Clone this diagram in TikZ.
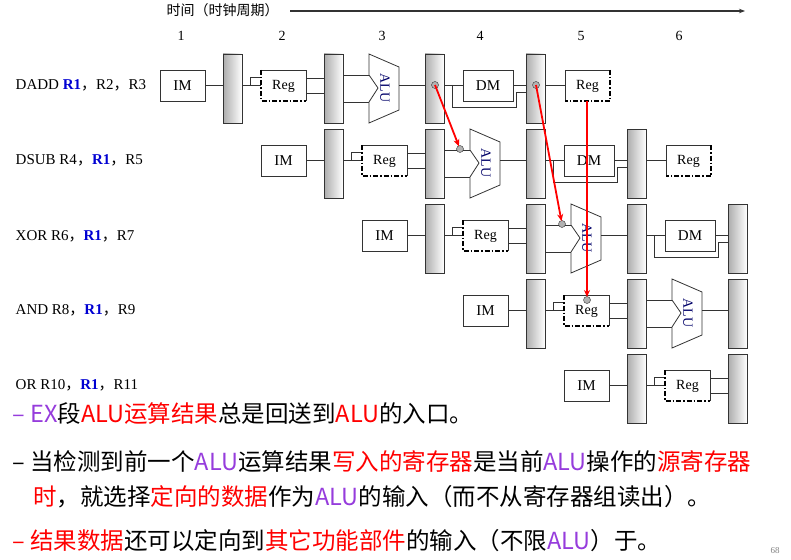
\documentclass[tikz,border=0pt]{standalone}
\usepackage{fontspec}
\setmainfont{Liberation Serif}
\newfontfamily\cjk{Noto Sans CJK SC}
\usetikzlibrary{arrows.meta}
\definecolor{exblue}{RGB}{0,0,210}
\definecolor{expurple}{RGB}{150,60,220}
\tikzset{
  box/.style={draw,minimum width=45pt,minimum height=31pt,inner sep=0pt,font=\fontsize{15}{15}\selectfont},
  latch/.style={draw,left color=gray!65,right color=white},
  tap/.style={draw,fill=gray!60,thin},
  dd/.style={draw=black,line width=1.4pt,dash pattern=on 5pt off 2pt on 1.5pt off 2pt},
  fwd/.style={red,line width=1.8pt,-{Stealth[length=7pt,width=6pt]},shorten >=3pt},
  lab/.style={anchor=west,font=\fontsize{15}{15}\selectfont},
  say/.style={anchor=west,inner sep=0pt,font=\cjk\fontsize{23.5}{23.5}\selectfont}
}
\newcommand{\regrd}[1]{% register read, dash-dot left and bottom
  \fill[white] (#1,70) rectangle ++(45,31);
  \draw (#1,70) -- ++(45,0) -- ++(0,31);
  \draw[dd] (#1,70) -- ++(0,31) -- ++(45,0);
  \node at (#1+22.5,86) {Reg};}
\newcommand{\regwr}[1]{% register write, dash-dot right and bottom
  \fill[white] (#1,70) rectangle ++(45,31);
  \draw (#1,101) -- ++(0,-31) -- ++(45,0);
  \draw[dd] (#1+45,70) -- ++(0,31) -- ++(-45,0);
  \node at (#1+22.5,86) {Reg};}
\begin{document}
\begin{tikzpicture}[x=1pt,y=-1pt,line width=0.8pt,draw=black!80]
\useasboundingbox (0,0) rectangle (791,559);
% header
\node[anchor=west,font=\cjk\fontsize{14}{14}\selectfont] (time) at (163,10) {时间（时钟周期）};
\coordinate (tend) at (745,11);
\draw[line width=2pt,-{Stealth[length=6pt]}] (time.east) ++(8,1) -- (tend);
\foreach \n/\x in {1/181,2/282,3/382,4/480,5/581,6/679}
  \node[font=\fontsize{14}{14}\selectfont] (c\n) at (\x,36) {\n};
% pipelines
\foreach \k/\last in {0/527,1/628,2/729,3/729,4/729}{
\begin{scope}[shift={(101*\k,75*\k)},font=\fontsize{14}{14}\selectfont]
  \pgfmathtruncatemacro\lastrel{\last-101*\k}
  \node[box] (im) at (182.5,85.5) {IM};
  \foreach \lx in {223,324,...,\lastrel}
    \draw[latch] (\lx,54) rectangle ++(19,69);
  \draw (205,85) -- (223,85);
  \draw (242,85) -- (261,85) (250,85) -- (250,77) -- (261,77);
  \regrd{261}
  \draw (306,78) -- (324,78) (306,93) -- (324,93);
  \ifnum\k<4
  \draw (343,75) -- (369,75) (343,102) -- (369,102);
  \draw[fill=white] (369,54) -- (399,67) -- (399,110) -- (369,123) -- (369,102)
    -- (378,88) -- (369,75) -- cycle;
  \node[rotate=-90,text=exblue!50!black] at (385,88) {ALU};
  \draw (399,85) -- (425,85);
  \fi
  \ifnum\k<3
  \draw (444,85) -- (463,85);
  \node[box,minimum width=50pt] (dm) at (488,85.5) {DM};
  \draw (452,85) -- (452,107) -- (516,107) -- (516,92) -- (526,92);
  \draw (513,85) -- (526,85);
  \fi
  \ifnum\k<2
  \draw (545,85) -- (565,85);
  \regwr{565}
  \fi
\end{scope}}
% forwarding taps
\draw[tap] (435,85) circle (3.5) coordinate (s1);
\draw[tap] (536,85) circle (3.5) coordinate (s2);
\draw[tap] (460,149) circle (3.5) coordinate (t1);
\draw[tap] (562,224) circle (3.5) coordinate (t2);
\draw[tap] (587,300) circle (3.5) coordinate (t3);
\coordinate (s3) at (587,101);
\draw[fwd] (s1) -- (t1);
\draw[fwd] (s2) -- (t2);
\draw[fwd,shorten <=0pt] (s3) -- (t3);
% instructions
\node[lab] (i1) at (12,85) {DADD \textcolor{exblue}{\textbf{R1}}{\cjk ，}R2{\cjk ，}R3};
\node[lab] (i2) at (12,160) {DSUB R4{\cjk ，}\textcolor{exblue}{\textbf{R1}}{\cjk ，}R5};
\node[lab] (i3) at (12,236) {XOR R6{\cjk ，}\textcolor{exblue}{\textbf{R1}}{\cjk ，}R7};
\node[lab] (i4) at (12,310) {AND R8{\cjk ，}\textcolor{exblue}{\textbf{R1}}{\cjk ，}R9};
\node[lab] (i5) at (12,385) {OR R10{\cjk ，}\textcolor{exblue}{\textbf{R1}}{\cjk ，}R11};
% notes
\node[say] (n1) at (12,414) {\textcolor{expurple}{– EX}段\textcolor{red}{ALU运算结果}总是回送到\textcolor{red}{ALU}的入口。};
\node[say] (n2) at (12,462) {–\ 当检测到前一个\textcolor{expurple}{ALU}运算结果\textcolor{red}{写入的寄存器}是当前\textcolor{expurple}{ALU}操作的\textcolor{red}{源寄存器}};
\node[say] (n3) at (33,497) {\textcolor{red}{时}，就选择\textcolor{red}{定向的数据}作为\textcolor{expurple}{ALU}的输入（而不从寄存器组读出）。};
\node[say] (n4) at (12,541) {\textcolor{red}{–\ 结果数据}还可以定向到\textcolor{red}{其它功能部件}的输入（不限\textcolor{expurple}{ALU}）于。};
\node[font=\fontsize{9}{9}\selectfont,text=gray] (pg) at (775,551) {68};
\end{tikzpicture}
\end{document}
